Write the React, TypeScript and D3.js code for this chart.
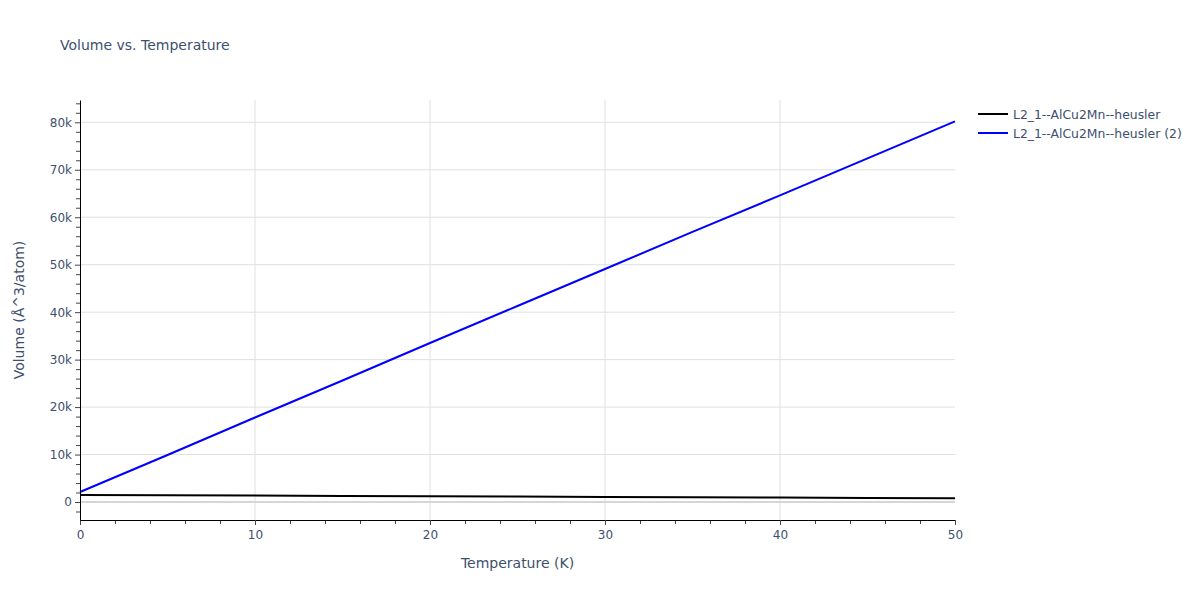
import React, {useEffect, useRef} from 'react';
import * as d3 from 'd3';

// Temperature (K) sample points
const temperatures = [0, 5, 10, 15, 20, 25, 30, 35, 40, 45, 50];
// Volume (Å^3/atom), series 1
const volumeHeusler = [1500, 1430, 1360, 1290, 1220, 1150, 1080, 1010, 940, 870, 780];
// Volume (Å^3/atom), series 2
const volumeHeusler2 = [2100, 9900, 17800, 25600, 33500, 41300, 49100, 56900, 64600, 72400, 80200];

const seriesNames = ['L2_1--AlCu2Mn--heusler', 'L2_1--AlCu2Mn--heusler (2)'];
const seriesColors = ['#000000', '#0000ff'];

const xTicks = [0, 10, 20, 30, 40, 50];
const yTicks = [0, 10000, 20000, 30000, 40000, 50000, 60000, 70000, 80000];

const App = () => {
    const ref = useRef(null);

    useEffect(() => {
        const width = 1200;
        const height = 600;
        const margin = {top: 100, right: 245, bottom: 80, left: 80};
        const font = '"DejaVu Sans", verdana, arial, sans-serif';
        const textColor = '#3d4f6e';

        const svg = d3.select(ref.current);
        svg.selectAll('*').remove();
        svg.attr('width', width).attr('height', height)
            .style('display', 'block')
            .style('position', 'absolute')
            .style('left', '0px')
            .style('top', '0px')
            .style('background', '#fff')
            .style('font-family', font);

        const x = d3.scaleLinear().domain([0, 50]).range([margin.left, width - margin.right]);
        const y = d3.scaleLinear().domain([-3790, 84700]).range([height - margin.bottom, margin.top]);

        const grid = svg.append('g');
        // vertical grid
        grid.selectAll('line.vx')
            .data(xTicks.filter(t => t > 0 && t < 50))
            .join('line')
            .attr('x1', d => x(d)).attr('x2', d => x(d))
            .attr('y1', margin.top).attr('y2', height - margin.bottom)
            .attr('stroke', '#e0e0e0').attr('stroke-width', 1);
        // horizontal grid
        grid.selectAll('line.hy')
            .data(yTicks)
            .join('line')
            .attr('x1', margin.left).attr('x2', width - margin.right)
            .attr('y1', d => y(d)).attr('y2', d => y(d))
            .attr('stroke', d => d === 0 ? '#d6d6d6' : '#e0e0e0')
            .attr('stroke-width', d => d === 0 ? 2 : 1);

        // lines
        const line = d3.line<number>()
            .x((d, i) => x(temperatures[i]))
            .y(d => y(d));
        const plot = svg.append('g');
        [volumeHeusler, volumeHeusler2].forEach((s, i) => {
            plot.append('path')
                .attr('d', line(s))
                .attr('fill', 'none')
                .attr('stroke', seriesColors[i])
                .attr('stroke-width', 2);
        });

        // x axis
        const xMinor = d3.range(0, 51, 2).filter(t => t % 10 !== 0);
        const xAxis = svg.append('g').attr('transform', `translate(0,${height - margin.bottom})`);
        xAxis.call(d3.axisBottom(x).tickValues(xMinor).tickSize(4).tickFormat(() => ''));
        xAxis.call(g => g.select('.domain').remove());
        const xMajor = svg.append('g').attr('transform', `translate(0,${height - margin.bottom})`);
        xMajor.call(d3.axisBottom(x).tickValues(xTicks).tickSize(5).tickPadding(5).tickSizeOuter(0));

        // y axis
        const yMinor = d3.range(-2000, 84001, 2000).filter(t => t % 10000 !== 0);
        const yAxis = svg.append('g').attr('transform', `translate(${margin.left},0)`);
        yAxis.call(d3.axisLeft(y).tickValues(yMinor).tickSize(4).tickFormat(() => ''));
        yAxis.call(g => g.select('.domain').remove());
        const yMajor = svg.append('g').attr('transform', `translate(${margin.left},0)`);
        yMajor.call(d3.axisLeft(y).tickValues(yTicks).tickSize(5).tickPadding(3).tickSizeOuter(0)
            .tickFormat(d => (+d === 0 ? '0' : `${+d / 1000}k`)));

        svg.selectAll('.tick line').attr('stroke', '#444');
        svg.selectAll('.domain').attr('stroke', '#000').attr('stroke-width', 1);
        svg.selectAll('.tick text')
            .attr('fill', textColor)
            .style('font-size', '12px')
            .style('font-family', font);

        // title
        svg.append('text')
            .attr('x', 60).attr('y', 50)
            .attr('fill', textColor)
            .style('font-size', '14px')
            .text('Volume vs. Temperature');

        // axis titles
        svg.append('text')
            .attr('x', (margin.left + width - margin.right) / 2)
            .attr('y', 568)
            .attr('text-anchor', 'middle')
            .attr('fill', textColor)
            .style('font-size', '14px')
            .text('Temperature (K)');
        svg.append('text')
            .attr('transform', `translate(24,${(margin.top + height - margin.bottom) / 2}) rotate(-90)`)
            .attr('text-anchor', 'middle')
            .attr('fill', textColor)
            .style('font-size', '14px')
            .text('Volume (Å^3/atom)');

        // legend
        const legend = svg.append('g').attr('transform', 'translate(978,114)');
        seriesNames.forEach((name, i) => {
            const row = legend.append('g').attr('transform', `translate(0,${i * 19})`);
            row.append('line')
                .attr('x1', 0).attr('x2', 30)
                .attr('stroke', seriesColors[i]).attr('stroke-width', 2);
            row.append('text')
                .attr('x', 35).attr('y', 4.5)
                .attr('fill', textColor)
                .style('font-size', '12.4px')
                .text(name);
        });
    }, []);

    return <svg ref={ref}></svg>;
};

export default App;
